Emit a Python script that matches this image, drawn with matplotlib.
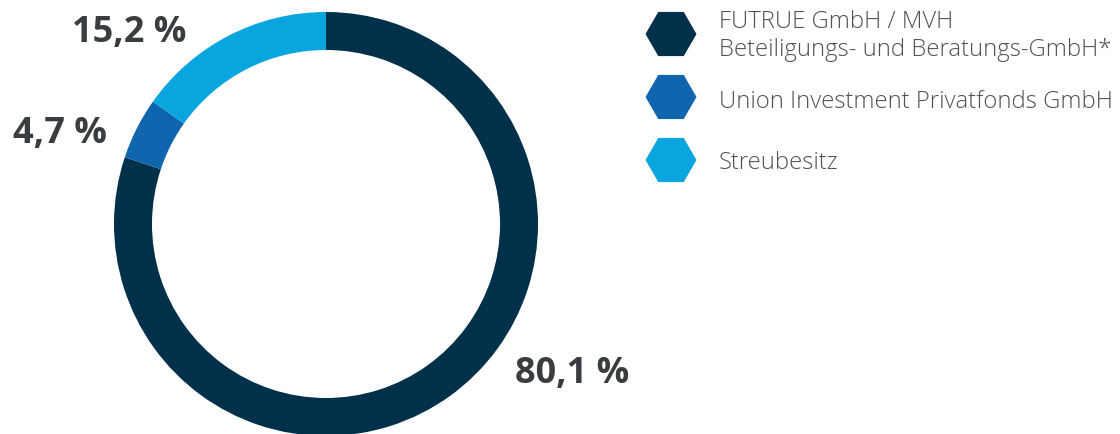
import numpy as np
import matplotlib.pyplot as plt
from matplotlib.patches import RegularPolygon

# Shareholder structure
shares = [80.1, 4.7, 15.2]
share_labels = ["80,1 %", "4,7 %", "15,2 %"]
legend_labels = [
    "FUTRUE GmbH / MVH\nBeteiligungs- und Beratungs-GmbH*",
    "Union Investment Privatfonds GmbH",
    "Streubesitz",
]
colors = ["#01314A", "#1066AE", "#08A5DF"]

W, H = 1120, 434

fig = plt.figure(figsize=(W / 100, H / 100), dpi=100)
ax = fig.add_axes([0, 0, 1, 1])

# Donut
cx, cy, r = 326, H - 224, 212
ax.pie(shares, colors=colors, startangle=90, counterclock=False,
       center=(cx, cy), radius=r, frame=True,
       wedgeprops=dict(width=38, edgecolor="none"))
ax.set_xlim(0, W)
ax.set_ylim(0, H)
ax.set_aspect("equal")
ax.axis("off")

# Percent labels
label_pos = [(572, 374), (60, 134), (129, 33)]
for txt, (x, y) in zip(share_labels, label_pos):
    ax.text(x, H - y, txt, ha="center", va="center", fontsize=26,
            fontweight="bold", color="#3A3D40", family="Open Sans")

# Legend with hexagon markers
hex_y = [34, 97, 160]
text_y = [36, 102, 163]
for col, lab, hy, ty in zip(colors, legend_labels, hex_y, text_y):
    ax.add_patch(RegularPolygon((671, H - hy), numVertices=6, radius=25.5,
                                orientation=np.pi / 6, facecolor=col,
                                edgecolor="none"))
    ax.text(719, H - ty, lab, ha="left", va="center", fontsize=17.2,
            fontweight="light", color="#505254", family="Open Sans",
            linespacing=1.25)

fig.savefig("out.png", dpi=100)
